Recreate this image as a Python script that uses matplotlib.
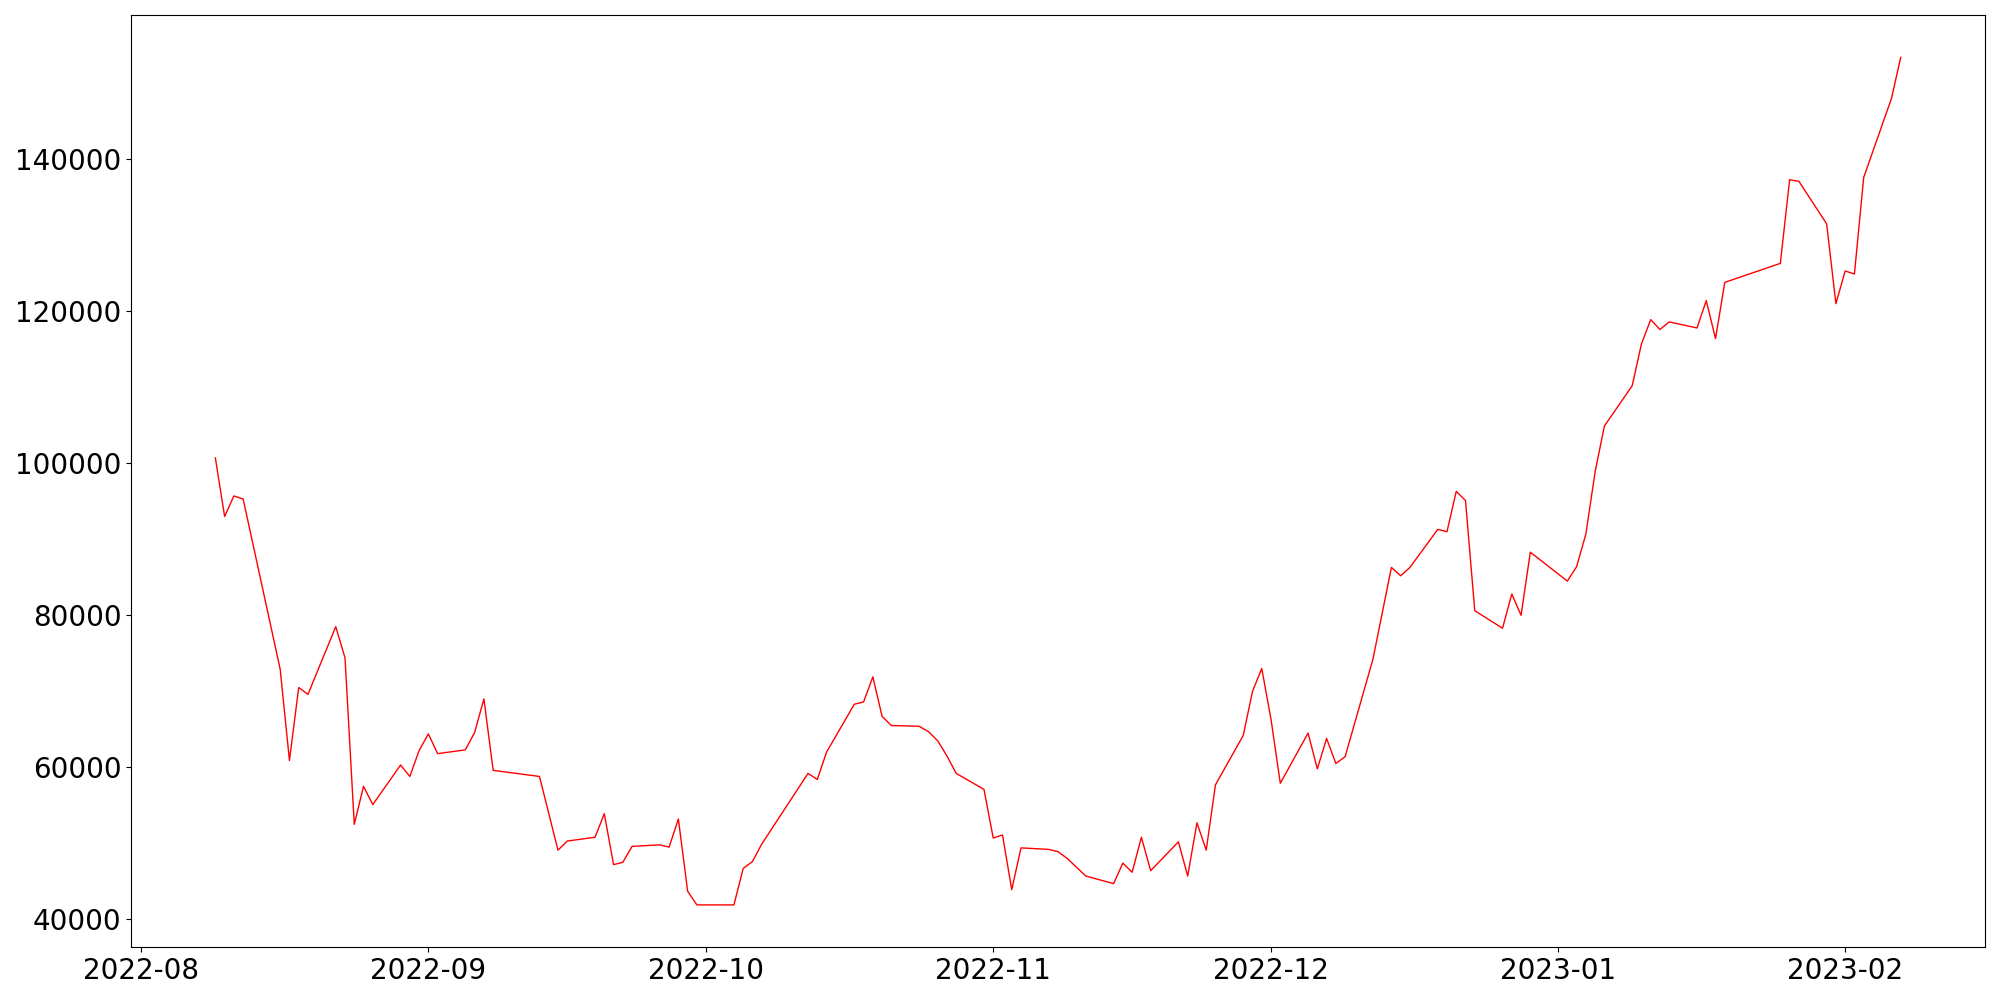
import pandas as pd
import matplotlib
matplotlib.use("Agg")
import matplotlib.pyplot as plt

# trading days and closing values
dates = [
    "2022-08-09", "2022-08-10", "2022-08-11", "2022-08-12", "2022-08-16",
    "2022-08-17", "2022-08-18", "2022-08-19", "2022-08-22", "2022-08-23",
    "2022-08-24", "2022-08-25", "2022-08-26", "2022-08-29", "2022-08-30",
    "2022-08-31", "2022-09-01", "2022-09-02", "2022-09-05", "2022-09-06",
    "2022-09-07", "2022-09-08", "2022-09-13", "2022-09-15", "2022-09-16",
    "2022-09-19", "2022-09-20", "2022-09-21", "2022-09-22", "2022-09-23",
    "2022-09-26", "2022-09-27", "2022-09-28", "2022-09-29", "2022-09-30",
    "2022-10-03", "2022-10-04", "2022-10-05", "2022-10-06", "2022-10-07",
    "2022-10-12", "2022-10-13", "2022-10-14", "2022-10-17", "2022-10-18",
    "2022-10-19", "2022-10-20", "2022-10-21", "2022-10-24", "2022-10-25",
    "2022-10-26", "2022-10-27", "2022-10-28", "2022-10-31", "2022-11-01",
    "2022-11-02", "2022-11-03", "2022-11-04", "2022-11-07", "2022-11-08",
    "2022-11-09", "2022-11-11", "2022-11-14", "2022-11-15", "2022-11-16",
    "2022-11-17", "2022-11-18", "2022-11-21", "2022-11-22", "2022-11-23",
    "2022-11-24", "2022-11-25", "2022-11-28", "2022-11-29", "2022-11-30",
    "2022-12-01", "2022-12-02", "2022-12-05", "2022-12-06", "2022-12-07",
    "2022-12-08", "2022-12-09", "2022-12-12", "2022-12-14", "2022-12-15",
    "2022-12-16", "2022-12-19", "2022-12-20", "2022-12-21", "2022-12-22",
    "2022-12-23", "2022-12-26", "2022-12-27", "2022-12-28", "2022-12-29",
    "2023-01-02", "2023-01-03", "2023-01-04", "2023-01-05", "2023-01-06",
    "2023-01-09", "2023-01-10", "2023-01-11", "2023-01-12", "2023-01-13",
    "2023-01-16", "2023-01-17", "2023-01-18", "2023-01-19", "2023-01-25",
    "2023-01-26", "2023-01-27", "2023-01-30", "2023-01-31", "2023-02-01",
    "2023-02-02", "2023-02-03", "2023-02-06", "2023-02-07",
]
values = [
    100700, 93000, 95700, 95300, 72900,
    60900, 70500, 69600, 78500, 74400,
    52500, 57500, 55100, 60300, 58800,
    62200, 64400, 61800, 62300, 64600,
    69000, 59600, 58800, 49100, 50300,
    50800, 53900, 47200, 47500, 49600,
    49800, 49500, 53200, 43700, 41900,
    41900, 41900, 46700, 47600, 49900,
    59200, 58400, 62000, 68300, 68600,
    71900, 66700, 65500, 65400, 64700,
    63500, 61500, 59200, 57100, 50700,
    51100, 43900, 49400, 49200, 48900,
    48000, 45700, 44700, 47400, 46200,
    50800, 46400, 50200, 45700, 52700,
    49100, 57700, 64200, 70000, 73000,
    66300, 57900, 64500, 59800, 63800,
    60500, 61400, 74200, 86300, 85200,
    86300, 91300, 91000, 96300, 95100,
    80600, 78300, 82800, 80000, 88300,
    84500, 86400, 90700, 98900, 104900,
    110200, 115700, 118900, 117600, 118600,
    117800, 121400, 116400, 123800, 126300,
    137300, 137100, 131500, 121000, 125300,
    124900, 137600, 148000, 153400,
]

x = pd.to_datetime(dates)

fig, ax = plt.subplots(figsize=(20, 10), dpi=100)
ax.plot(x, values, color="red", linewidth=1)
ax.tick_params(axis="both", labelsize=20)

plt.tight_layout()
plt.savefig("out.png")
